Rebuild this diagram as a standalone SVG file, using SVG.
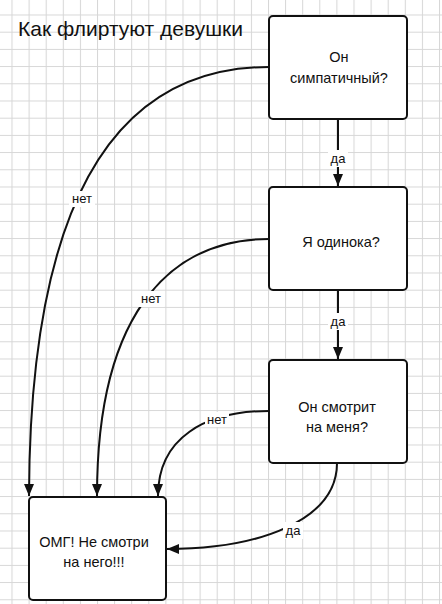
<svg xmlns="http://www.w3.org/2000/svg" width="442" height="604" viewBox="0 0 442 604">
<style>
.box{fill:#fff;stroke:#111;stroke-width:2}
.t{font-family:"Liberation Sans",Arial,sans-serif;font-size:14.5px;fill:#111;text-anchor:middle}
.lbl{font-family:"Liberation Sans",Arial,sans-serif;font-size:13px;fill:#111;text-anchor:middle}
.edge{fill:none;stroke:#111;stroke-width:2}
.bg{fill:#fff}
</style>
<defs>
<pattern id="grid" x="11.5" y="14.5" width="17.1" height="17.2" patternUnits="userSpaceOnUse">
<path d="M0,0.5 H17.1 M0.5,0 V17.2" stroke="#d6d6d6" stroke-width="1" fill="none"/>
</pattern>
<marker id="arr" markerWidth="12" markerHeight="10" refX="12" refY="5" orient="auto" markerUnits="userSpaceOnUse">
<path d="M0,0 L12,5 L0,10 z" fill="#111"/>
</marker>
</defs>
<rect width="442" height="604" fill="#fff"/>
<rect width="442" height="604" fill="url(#grid)"/>
<text x="18" y="36" font-family="Liberation Sans, Arial, sans-serif" font-size="21" fill="#111">Как флиртуют девушки</text>

<g id="connectors">
<path class="edge" d="M338,120 V186" marker-end="url(#arr)"/>
<path class="edge" d="M338,291 V359" marker-end="url(#arr)"/>
<path class="edge" d="M269,67 C140,67 30,160 29,496" marker-end="url(#arr)"/>
<path class="edge" d="M269,239 C180,239 97,300 97,496" marker-end="url(#arr)"/>
<path class="edge" d="M269,411 C205,411 158,438 158,496" marker-end="url(#arr)"/>
<path class="edge" d="M337,463 C337,520 260,549 167,549" marker-end="url(#arr)"/>
<rect class="bg" x="328" y="150" width="20" height="17"/>
<text class="lbl" x="338" y="163">да</text>
<rect class="bg" x="328" y="313" width="20" height="17"/>
<text class="lbl" x="338" y="326">да</text>
<rect class="bg" x="69" y="191" width="26" height="16"/>
<text class="lbl" x="82" y="203">нет</text>
<rect class="bg" x="138" y="291" width="26" height="16"/>
<text class="lbl" x="151" y="303">нет</text>
<rect class="bg" x="205" y="412" width="24" height="15"/>
<text class="lbl" x="217" y="424" font-size="12">нет</text>
<rect class="bg" x="283" y="522" width="20" height="17"/>
<text class="lbl" x="293" y="535">да</text>
</g>

<g id="n1">
<rect class="box" x="269" y="16" width="138" height="103" rx="4"/>
<text class="t" x="339" y="62">Он</text>
<text class="t" x="339" y="83">симпатичный?</text>
</g>
<g id="n2">
<rect class="box" x="269" y="187" width="138" height="103" rx="4"/>
<text class="t" x="341" y="247">Я одинока?</text>
</g>
<g id="n3">
<rect class="box" x="269" y="360" width="138" height="103" rx="4"/>
<text class="t" x="337" y="412">Он смотрит</text>
<text class="t" x="337" y="432">на меня?</text>
</g>
<g id="n4">
<rect class="box" x="29" y="497" width="137" height="103" rx="4"/>
<text class="t" x="94" y="547">ОМГ! Не смотри</text>
<text class="t" x="94" y="567">на него!!!</text>
</g>
</svg>
